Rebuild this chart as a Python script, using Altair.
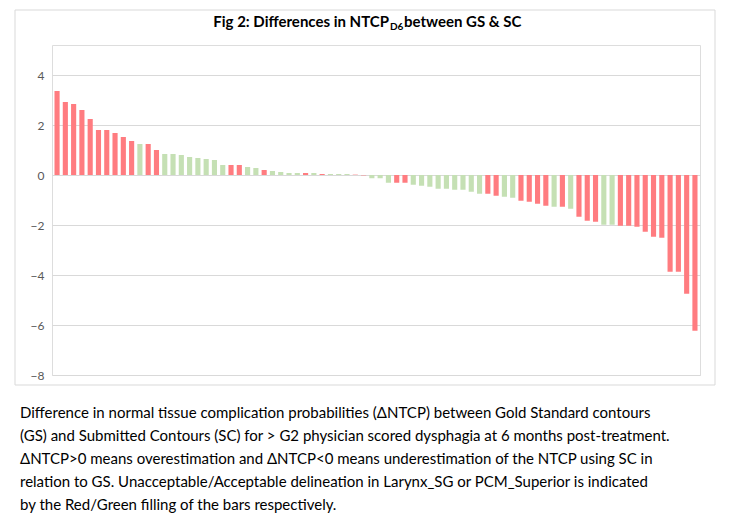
import altair as alt
import pandas as pd

values = [3.36, 2.92, 2.84, 2.6, 2.24, 1.8, 1.8, 1.68, 1.52, 1.36,
          1.24, 1.24, 1.0, 0.84, 0.84, 0.8, 0.72, 0.68, 0.64, 0.6,
          0.4, 0.4, 0.4, 0.32, 0.28, 0.2, 0.16, 0.12, 0.08, 0.08,
          0.08, 0.08, 0.04, 0.04, 0.04, 0.04, 0.015, -0.015,
          -0.13, -0.13, -0.31, -0.31, -0.31, -0.39, -0.43, -0.47, -0.55, -0.55,
          -0.59, -0.59, -0.67, -0.75, -0.75, -0.83, -0.87, -0.91, -1.03, -1.07,
          -1.15, -1.23, -1.27, -1.27, -1.35, -1.67, -1.83, -1.87, -1.99, -1.99,
          -2.03, -2.03, -2.07, -2.27, -2.47, -2.51, -3.87, -3.87, -4.75, -6.23]
groups = list("RRRRRRRRRRGRRGGGGGGGGRRGGRGGGGRGRGGGRR"
              "GGGRRGGGGGGGGGRRGGRRRRGRGRRRGGRRRRRRRRRR")

caption = [
    "Difference in normal tissue complication probabilities (ΔNTCP) between Gold Standard contours",
    "(GS) and Submitted Contours (SC) for > G2 physician scored dysphagia at 6 months post-treatment.",
    "ΔNTCP>0 means overestimation and ΔNTCP<0 means underestimation of the NTCP using SC in",
    "relation to GS. Unacceptable/Acceptable delineation in Larynx_SG or PCM_Superior is indicated",
    "by the Red/Green filling of the bars respectively.",
]

df = pd.DataFrame({"i": list(range(len(values))), "v": values, "g": groups[:len(values)]})
W, H = 648, 330
FONT = "Lato"

bars = alt.Chart(df).mark_bar().encode(
    x=alt.X("i:O", axis=None, scale=alt.Scale(paddingInner=0.38, paddingOuter=0.3)),
    y=alt.Y("v:Q", scale=alt.Scale(domain=[-8, 5.2], nice=False),
            axis=alt.Axis(values=[-8, -6, -4, -2, 0, 2, 4], title=None, domain=False,
                          ticks=False, grid=True, gridColor="#d9d9d9", labelColor="#595959",
                          labelFontSize=12, labelFont=FONT, labelPadding=8)),
    color=alt.Color("g:N", scale=alt.Scale(domain=["R", "G"], range=["#ff7c80", "#c5e0b4"]),
                    legend=None),
)

one = pd.DataFrame({"a": [0]})
box = alt.Chart(one).mark_rect(fill=None, stroke="#d9d9d9", strokeWidth=1).encode(
    x=alt.value(-37), x2=alt.value(663), y=alt.value(-35), y2=alt.value(340))


def txt(s, x, y, size, align="left", weight="normal"):
    return alt.Chart(pd.DataFrame({"t": [s]})).mark_text(
        align=align, baseline="middle", fontSize=size, fontWeight=weight, font=FONT,
        color="#000000").encode(text="t:N", x=alt.value(x), y=alt.value(y))


layers = [box, bars,
          txt("Fig 2: Differences in NTCP", 337, -23, 15, "right", "bold"),
          txt("D6", 338, -18, 10, "left", "bold"),
          txt(" between GS & SC", 352, -23, 15, "left", "bold")]
for k, line in enumerate(caption):
    layers.append(txt(line, -32, 368 + k * 23, 15))

chart = alt.layer(*layers).properties(
    width=W, height=H, autosize=alt.AutoSizeParams(type="none"),
    padding={"left": 44, "top": 37, "right": 20, "bottom": 140},
).configure_view(stroke=None).configure(background="white")

chart.save("out.html", embed_options={"renderer": "svg", "actions": False})
